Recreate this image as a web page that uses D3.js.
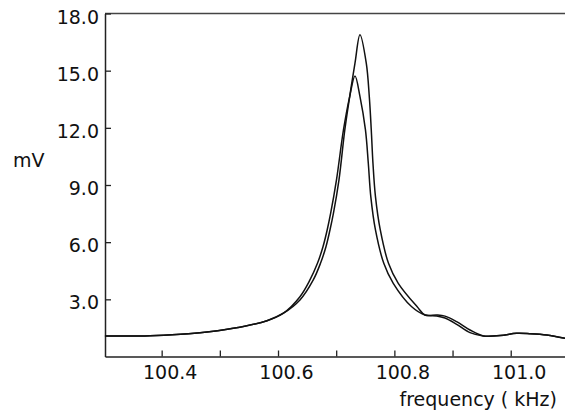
<!DOCTYPE html>
<html>
<head>
<meta charset="utf-8">
<script src="https://cdn.jsdelivr.net/npm/d3@7"></script>
<style>
  body { margin: 0; background: #fff; }
  svg text { font-family: "DejaVu Sans", sans-serif; fill: #111; }
</style>
</head>
<body>
<div id="chart"></div>
<script>
// readings taken off the plot (frequency in kHz, amplitude in mV)
const freqA = [100.3025, 100.38, 100.466, 100.523, 100.581, 100.609, 100.6377, 100.6606, 100.6730, 100.6824,
               100.6893, 100.6953, 100.7048, 100.7148, 100.7232, 100.7323, 100.7409, 100.7517, 100.7569, 100.7603,
               100.7632, 100.7675, 100.7758, 100.7899, 100.8067, 100.8389, 100.8526, 100.8728, 100.887, 100.907,
               100.930, 100.953, 100.982, 101.010, 101.033, 101.062, 101.0933];
const mvA = [1.08, 1.09, 1.25, 1.48, 1.88, 2.27, 2.97, 4.02, 4.89, 5.76,
             6.64, 7.52, 9.27, 11.89, 13.64, 15.39, 16.88, 15.39, 13.64, 11.89,
             10.14, 8.39, 6.64, 4.89, 3.84, 2.62, 2.18, 2.18, 2.12, 1.83,
             1.39, 1.08, 1.10, 1.22, 1.20, 1.13, 0.955];

const freqB = [100.3025, 100.38, 100.466, 100.523, 100.581, 100.609, 100.6377, 100.6549, 100.6678, 100.6773,
               100.6845, 100.6905, 100.7005, 100.7125, 100.7232, 100.7323, 100.7409, 100.7503, 100.7552, 100.7595,
               100.7675, 100.7818, 100.7981, 100.8298, 100.8526, 100.8728, 100.887, 100.9071, 100.930, 100.953,
               100.982, 101.010, 101.033, 101.062, 101.0933];
const mvB = [1.08, 1.09, 1.25, 1.48, 1.88, 2.27, 3.14, 4.02, 4.89, 5.76,
             6.64, 7.52, 9.27, 11.89, 13.64, 14.72, 13.64, 11.89, 10.14, 8.39,
             6.64, 4.89, 3.84, 2.61, 2.18, 2.13, 2.02, 1.69, 1.25, 1.08,
             1.10, 1.22, 1.20, 1.13, 0.955];

const xTicks = [100.4, 100.5, 100.6, 100.7, 100.8, 100.9, 101.0];
const xLabels = ["100.4", "", "100.6", "", "100.8", "", "101.0"];
const yTicks = [3, 6, 9, 12, 15, 18];
const yLabels = ["3.0", "6.0", "9.0", "12.0", "15.0", "18.0"];

const W = 565, H = 415;
const plotLeft = 105, plotRight = 565, plotTop = 13.5, plotBottom = 356.5;

const svg = d3.select("#chart").append("svg")
    .attr("width", W)
    .attr("height", H);

const x = d3.scaleLinear().domain([100.3026, 101.0933]).range([plotLeft, plotRight]);
const y = d3.scaleLinear().domain([0, 18]).range([plotBottom, plotTop]);

// top border
svg.append("line")
    .attr("x1", plotLeft).attr("x2", plotRight)
    .attr("y1", plotTop).attr("y2", plotTop)
    .attr("stroke", "#444")
    .attr("stroke-width", 1.5);

// x axis, ticks pointing inward
const xAxis = svg.append("g")
    .attr("transform", `translate(0,${plotBottom})`)
    .call(d3.axisBottom(x)
        .tickValues(xTicks)
        .tickFormat((d, i) => xLabels[i])
        .tickSizeInner(-6)
        .tickSizeOuter(0)
        .tickPadding(9));
xAxis.select(".domain").attr("stroke", "#222").attr("stroke-width", 1.5);
xAxis.selectAll(".tick line").attr("stroke", "#222").attr("stroke-width", 1.3);
xAxis.selectAll(".tick text")
    .attr("dx", 8)
    .style("font-size", "19px");

// y axis
const yAxis = svg.append("g")
    .attr("transform", `translate(${plotLeft},0)`)
    .call(d3.axisLeft(y)
        .tickValues(yTicks)
        .tickFormat((d, i) => yLabels[i])
        .tickSizeInner(-6)
        .tickSizeOuter(0)
        .tickPadding(6));
yAxis.select(".domain").attr("stroke", "#222").attr("stroke-width", 1.5);
yAxis.selectAll(".tick line").attr("stroke", "#222").attr("stroke-width", 1.3);
yAxis.selectAll(".tick text")
    .attr("dy", "0.5em")
    .style("font-size", "19px");

// curves
const line = d3.line()
    .x(d => x(d[0]))
    .y(d => y(d[1]))
    .curve(d3.curveCatmullRom.alpha(0.5));

const seriesA = freqA.map((f, i) => [f, mvA[i]]);
const seriesB = freqB.map((f, i) => [f, mvB[i]]);

svg.append("path")
    .attr("d", line(seriesA))
    .attr("fill", "none")
    .attr("stroke", "#111")
    .attr("stroke-width", 1.5);

svg.append("path")
    .attr("d", line(seriesB))
    .attr("fill", "none")
    .attr("stroke", "#111")
    .attr("stroke-width", 1.5);

// axis titles
svg.append("text")
    .attr("x", 13)
    .attr("y", 167)
    .style("font-size", "19px")
    .text("mV");

svg.append("text")
    .attr("x", 557)
    .attr("y", 406)
    .attr("text-anchor", "end")
    .style("font-size", "19px")
    .text("frequency ( kHz)");
</script>
</body>
</html>
